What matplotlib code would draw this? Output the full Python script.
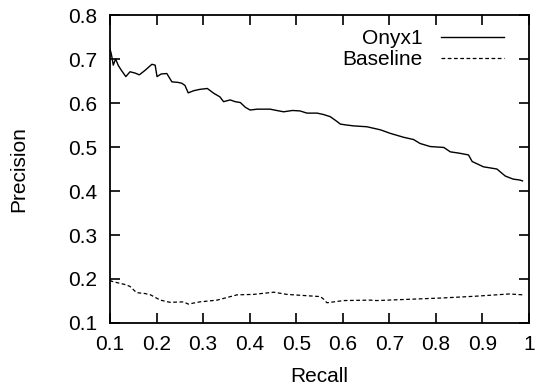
import matplotlib
matplotlib.use("Agg")
import matplotlib.pyplot as plt

plt.rcParams['font.family'] = ['Liberation Sans', 'DejaVu Sans']

onyx_recall = [0.100, 0.102, 0.104, 0.107, 0.112, 0.118, 0.124, 0.134, 0.143, 0.154, 0.163, 0.175,
               0.190, 0.197, 0.201, 0.210, 0.222, 0.233, 0.245, 0.254, 0.261, 0.268, 0.280, 0.293,
               0.309, 0.323, 0.336, 0.344, 0.358, 0.369, 0.380, 0.391, 0.401, 0.416, 0.444, 0.458,
               0.473, 0.492, 0.508, 0.523, 0.545, 0.558, 0.573, 0.585, 0.595, 0.608, 0.623, 0.652,
               0.681, 0.702, 0.731, 0.752, 0.766, 0.788, 0.817, 0.831, 0.850, 0.870, 0.878, 0.902,
               0.931, 0.949, 0.966, 0.980, 0.986]
onyx_precision = [0.722, 0.715, 0.705, 0.686, 0.700, 0.685, 0.675, 0.660, 0.671, 0.668, 0.664, 0.674,
                  0.688, 0.686, 0.660, 0.666, 0.667, 0.648, 0.647, 0.645, 0.640, 0.623, 0.628, 0.631,
                  0.633, 0.622, 0.614, 0.603, 0.607, 0.603, 0.601, 0.590, 0.584, 0.586, 0.586, 0.583,
                  0.580, 0.583, 0.582, 0.577, 0.577, 0.574, 0.569, 0.560, 0.552, 0.550, 0.548, 0.546,
                  0.539, 0.531, 0.522, 0.517, 0.508, 0.501, 0.499, 0.489, 0.486, 0.482, 0.467, 0.455,
                  0.450, 0.434, 0.427, 0.425, 0.423]

base_recall = [0.100, 0.103, 0.114, 0.122, 0.134, 0.143, 0.157, 0.175, 0.187, 0.208, 0.229, 0.258,
               0.268, 0.293, 0.330, 0.373, 0.408, 0.452, 0.480, 0.523, 0.552, 0.559, 0.566, 0.602,
               0.659, 0.673, 0.745, 0.816, 0.887, 0.958, 0.987]
base_precision = [0.198, 0.195, 0.192, 0.190, 0.187, 0.183, 0.169, 0.167, 0.164, 0.152, 0.147, 0.148,
                  0.143, 0.148, 0.152, 0.164, 0.165, 0.170, 0.165, 0.162, 0.160, 0.154, 0.146, 0.151,
                  0.152, 0.151, 0.154, 0.157, 0.161, 0.166, 0.164]

x_ticks = [0.1, 0.2, 0.3, 0.4, 0.5, 0.6, 0.7, 0.8, 0.9, 1.0]
x_tick_labels = ['0.1', '0.2', '0.3', '0.4', '0.5', '0.6', '0.7', '0.8', '0.9', '1']
y_ticks = [0.1, 0.2, 0.3, 0.4, 0.5, 0.6, 0.7, 0.8]
y_tick_labels = ['0.1', '0.2', '0.3', '0.4', '0.5', '0.6', '0.7', '0.8']

fig = plt.figure(figsize=(5.37, 3.88), dpi=100)
ax = fig.add_axes([110/537, 1-323/388, (529-110)/537, (323-15)/388])

ax.plot(onyx_recall, onyx_precision, color='black', lw=1.0, label='Onyx1')
ax.plot(base_recall, base_precision, color='black', lw=0.9, dashes=(3, 2), label='Baseline')

ax.set_xlim(0.1, 1.0)
ax.set_ylim(0.1, 0.8)
ax.set_xticks(x_ticks)
ax.set_xticklabels(x_tick_labels)
ax.set_yticks(y_ticks)
ax.set_yticklabels(y_tick_labels)
ax.tick_params(direction='in', length=7, width=1.2, top=True, right=True,
               labelsize=15, pad=9, color='black')
for s in ax.spines.values():
    s.set_linewidth(1.3)

ax.set_xlabel('Recall', fontsize=15, labelpad=9)
ax.set_ylabel('Precision', fontsize=15, labelpad=29)

leg = ax.legend(loc='upper right', frameon=False, markerfirst=False, fontsize=15,
                handlelength=3.0, handletextpad=0.9, labelspacing=0.1,
                borderaxespad=0.2, bbox_to_anchor=(0.97, 0.995))
for t in leg.get_texts():
    t.set_ha('right')

fig.savefig('out.png', dpi=100)
